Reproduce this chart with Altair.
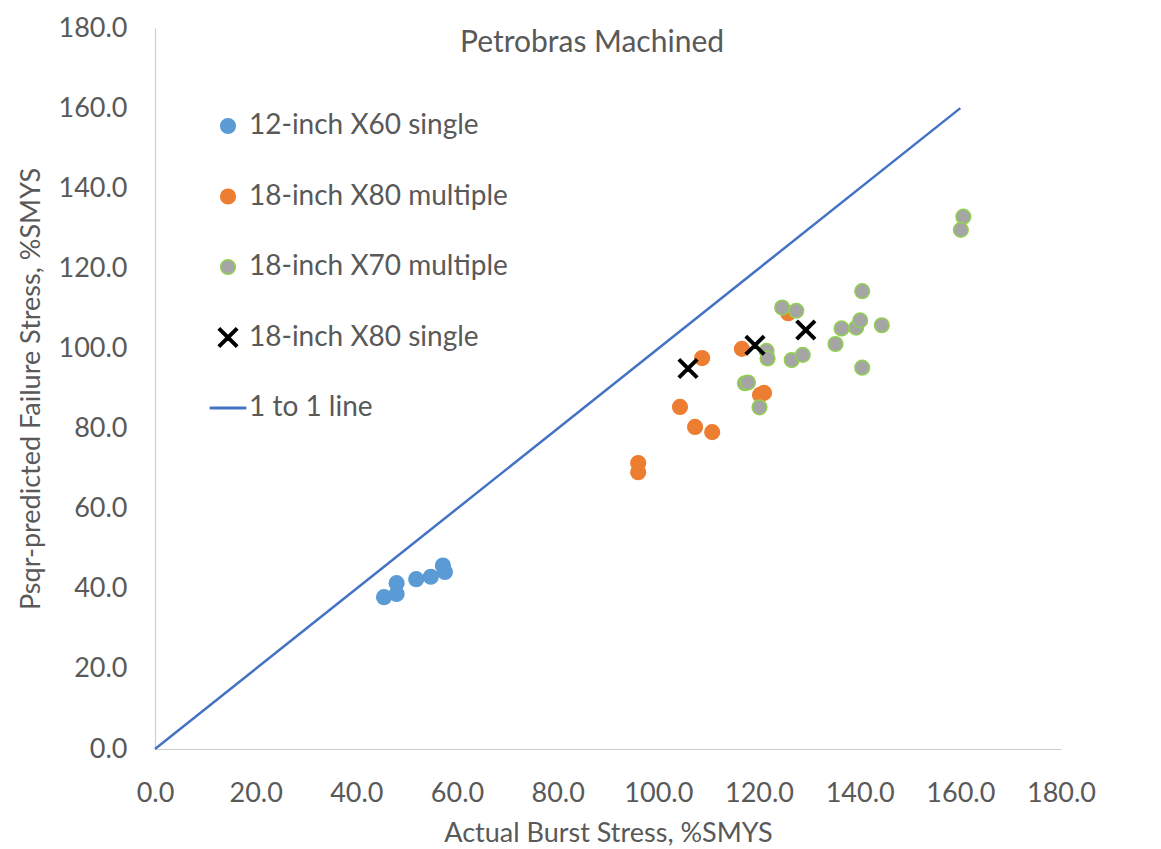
import altair as alt
import pandas as pd

# ---- data ----
blue_x = [45.5, 48.0, 48.0, 51.9, 54.8, 57.2, 57.6]
blue_y = [37.9, 41.4, 38.7, 42.4, 43.0, 45.8, 44.2]

orange_x = [96.0, 96.0, 104.3, 107.3, 110.7, 108.7, 116.6, 120.2, 121.0, 125.8]
orange_y = [71.4, 69.1, 85.4, 80.4, 79.1, 97.6, 99.9, 88.4, 88.9, 108.8]

gray_x = [124.6, 127.4, 121.5, 121.7, 126.5, 128.7, 117.2, 117.8, 120.1,
          135.2, 136.4, 139.3, 140.1, 144.4, 140.5, 140.5, 160.6, 160.1]
gray_y = [110.2, 109.4, 99.4, 97.5, 97.1, 98.4, 91.3, 91.5, 85.3,
          101.1, 105.0, 105.2, 107.0, 105.8, 114.3, 95.2, 132.9, 129.6]

cross_x = [105.9, 119.2, 129.3]
cross_y = [95.0, 100.8, 104.6]

line_x = [0, 160]
line_y = [0, 160]

series_names = ["12-inch X60 single", "18-inch X80 multiple", "18-inch X70 multiple",
                "18-inch X80 single", "1 to 1 line"]
tick_values = [0, 20, 40, 60, 80, 100, 120, 140, 160, 180]

rows = []
for name, xs, ys in [(series_names[0], blue_x, blue_y),
                     (series_names[1], orange_x, orange_y),
                     (series_names[2], gray_x, gray_y),
                     (series_names[3], cross_x, cross_y)]:
    for a, b in zip(xs, ys):
        rows.append({"x": a, "y": b, "series": name})
pts = pd.DataFrame(rows)
pts["order"] = range(len(pts))
line_df = pd.DataFrame({"x": line_x, "y": line_y})

FONT = "Lato"
GREY = "#595959"
CROSS = ("M-1.3,-1.06L-1.06,-1.3L0,-0.24L1.06,-1.3L1.3,-1.06L0.24,0"
         "L1.3,1.06L1.06,1.3L0,0.24L-1.06,1.3L-1.3,1.06L-0.24,0Z")
LINESYM = "M-2.4,-0.09L2.4,-0.09L2.4,0.09L-2.4,0.09Z"

xscale = alt.Scale(domain=[0, 180], nice=False, zero=False)
yscale = alt.Scale(domain=[0, 180], nice=False, zero=False)

xaxis = alt.Axis(values=tick_values, format=".1f", title="Actual Burst Stress, %SMYS",
                 grid=False, ticks=False, labelPadding=31, titlePadding=14,
                 labelFlush=False, labelFontSize=27)
yaxis = alt.Axis(values=tick_values, format=".1f", title="Psqr-predicted Failure Stress, %SMYS",
                 grid=False, ticks=False, labelPadding=28, titlePadding=12,
                 labelFlush=False, labelFontSize=27)

legend = alt.Legend(title=None, orient="none", legendX=59, legendY=84,
                    rowPadding=42.5, labelOffset=7, padding=0)

line = alt.Chart(line_df).mark_line(color="#4472C4", strokeWidth=2.5).encode(
    x=alt.X("x:Q", scale=xscale, axis=xaxis),
    y=alt.Y("y:Q", scale=yscale, axis=yaxis),
)

points = alt.Chart(pts).mark_point(opacity=1, size=215, strokeWidth=1.5).encode(
    x=alt.X("x:Q", scale=xscale),
    y=alt.Y("y:Q", scale=yscale),
    fill=alt.Fill("series:N", scale=alt.Scale(domain=series_names,
                  range=["#5B9BD5", "#ED7D31", "#A5A5A5", "#000000", "#4472C4"]), legend=legend),
    stroke=alt.Stroke("series:N", scale=alt.Scale(domain=series_names,
                  range=["#5B9BD5", "#ED7D31", "#92D050", "#000000", "#4472C4"]), legend=legend),
    shape=alt.Shape("series:N", scale=alt.Scale(domain=series_names,
                  range=["circle", "circle", "circle", CROSS, LINESYM]), legend=legend),
    order=alt.Order("order:Q"),
)

chart = alt.layer(line, points).properties(
    width=906, height=721,
    autosize=alt.AutoSizeParams(type="none"),
    padding={"left": 155, "top": 28, "right": 100, "bottom": 100},
    title=alt.TitleParams("Petrobras Machined", offset=-44, dx=-16, anchor="middle",
                          fontSize=30, font=FONT, color=GREY, fontWeight="normal"),
).configure_view(stroke=None).configure_axis(
    labelFont=FONT, labelColor=GREY,
    titleFont=FONT, titleFontSize=27, titleColor=GREY, titleFontWeight="normal",
    domainColor="#CFCFCF", domainWidth=1.2,
).configure_legend(
    labelFont=FONT, labelFontSize=28, labelColor=GREY, labelLimit=400,
    symbolSize=215, symbolStrokeWidth=1.5,
)

chart.save("out.html", embed_options={"renderer": "svg", "actions": False})
